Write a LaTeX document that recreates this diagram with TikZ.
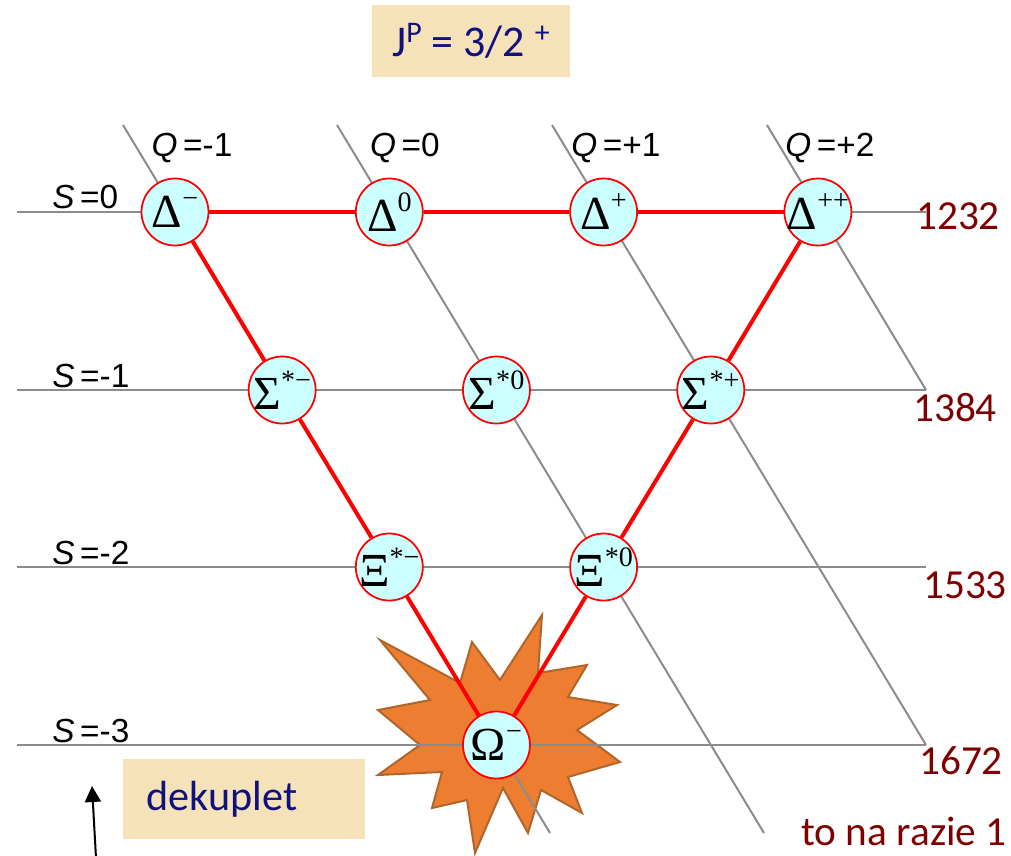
\documentclass[tikz,border=0pt]{standalone}
\usepackage{fontspec}
\setmainfont{Liberation Sans}
\newfontfamily\massfont{Carlito}
\newfontfamily\particlefont{Liberation Serif}
\usetikzlibrary{arrows.meta,positioning,calc}
\definecolor{hadronfill}{HTML}{CCFFFF}
\definecolor{gridgray}{HTML}{8C8C8C}
\definecolor{massred}{HTML}{7F0000}
\definecolor{notefill}{HTML}{F5E2B9}
\definecolor{notetext}{HTML}{10107F}
\definecolor{burstfill}{HTML}{ED7D31}
\definecolor{burstdraw}{HTML}{B0652B}
\newcommand{\hadron}[2]{\makebox[0pt][c]{#1\raisebox{0.42em}{\fontsize{16}{16}\selectfont #2}}}
\newcommand{\upsmall}[1]{\raisebox{0.32em}{\fontsize{17}{17}\selectfont #1}}
\tikzset{
    diagramparticle/.style={circle, draw=red, line width=0.35mm, fill=hadronfill, inner sep=0pt, minimum size=13.4mm, font=\particlefont\fontsize{27}{29}\selectfont},
    diagramgrid/.style={draw=gridgray, line width=0.4mm},
    diagramedge/.style={draw=red, line width=0.8mm},
    diagramaxis/.style={inner sep=0pt, font=\fontsize{19}{21}\selectfont},
    diagrammass/.style={inner sep=0pt, text=massred, font=\massfont\fontsize{23.5}{26}\selectfont},
    diagramnote/.style={fill=notefill, text=notetext, inner sep=0pt, font=\massfont\fontsize{25}{28}\selectfont},
    diagramburst/.style={fill=burstfill, draw=burstdraw, line width=0.4mm, line join=miter},
    diagramarrow/.style={-{Triangle[length=3.2mm, width=3.2mm]}, line width=0.4mm}
}

\begin{document}
\begin{tikzpicture}[x=0.2mm, y=-0.2mm, node distance=42.86mm, on grid]
    \useasboundingbox (0,0) rectangle (1011,855);
    % explosion behind Omega
    \draw[diagramburst] (380,640) -- (460,683) -- (472,642) -- (500,680) -- (542,615) -- (538,673)
        -- (587,665) -- (568,697) -- (617,705) -- (577,730) -- (620,762) -- (568,777)
        -- (582,813) -- (541,790) -- (528,833) -- (503,788) -- (475,853) -- (467,800)
        -- (432,808) -- (442,772) -- (378,775) -- (420,745) -- (378,710) -- (430,700) -- cycle;
    % strangeness and charge lines
    \foreach \yrow in {212,390,567,745}
        \draw[diagramgrid] (17,\yrow) -- (926,\yrow);
    \draw[diagramgrid] (123,125) -- (550,833);
    \draw[diagramgrid] (337,125) -- (764,833);
    \draw[diagramgrid] (552,125) -- (926,745);
    \draw[diagramgrid] (767,125) -- (926,390);
    \node[diagramaxis] (qm) at (192,148) {\textit{Q}\,=-1};
    \node[diagramaxis] (qz) at (405,148) {\textit{Q}\,=0};
    \node[diagramaxis] (qp) at (616,148) {\textit{Q}\,=+1};
    \node[diagramaxis] (qpp) at (830,148) {\textit{Q}\,=+2};
    \node[diagramaxis, anchor=west] (sz) at (52,197) {\textit{S}\,=0};
    \node[diagramaxis, anchor=west] (sm) at (52,376) {\textit{S}\,=-1};
    \node[diagramaxis, anchor=west] (smm) at (52,553) {\textit{S}\,=-2};
    \node[diagramaxis, anchor=west] (smmm) at (52,731) {\textit{S}\,=-3};
    % decuplet
    \node[diagramparticle] (dm) at (175,212) {\hadron{Δ}{−}};
    \node[diagramparticle, right=of dm] (dz) {\hadron{Δ}{0}};
    \node[diagramparticle, right=of dz] (dp) {\hadron{Δ}{+}};
    \node[diagramparticle, right=of dp] (dpp) {\hadron{Δ}{++}};
    \node[diagramparticle] (sgm) at ($(dm)!0.5!(dz)+(0,178)$) {\hadron{Σ}{*−}};
    \node[diagramparticle, right=of sgm] (sgz) {\hadron{Σ}{*0}};
    \node[diagramparticle, right=of sgz] (sgp) {\hadron{Σ}{*+}};
    \node[diagramparticle] (xim) at ($(sgm)!0.5!(sgz)+(0,177)$) {\hadron{Ξ}{*−}};
    \node[diagramparticle, right=of xim] (xiz) {\hadron{Ξ}{*0}};
    \node[diagramparticle] (om) at ($(xim)!0.5!(xiz)+(0,178)$) {\hadron{Ω}{−}};
    \draw[diagramedge] (dm) -- (dz);
    \draw[diagramedge] (dz) -- (dp);
    \draw[diagramedge] (dp) -- (dpp);
    \draw[diagramedge] (dm) -- (sgm);
    \draw[diagramedge] (sgm) -- (xim);
    \draw[diagramedge] (xim) -- (om);
    \draw[diagramedge] (dpp) -- (sgp);
    \draw[diagramedge] (sgp) -- (xiz);
    \draw[diagramedge] (xiz) -- (om);
    % masses
    \node[diagrammass] (mdelta) at (958,216) {1232};
    \node[diagrammass] (msigma) at (955,408) {1384};
    \node[diagrammass] (mxi) at (965,585) {1533};
    \node[diagrammass] (momega) at (961,761) {1672};
    \node[diagrammass] (remark) at (904,831) {to na razie 1};
    % boxes
    \node[diagramnote, minimum width=39.6mm, minimum height=14.4mm] (spin) at (471,41) {J\upsmall{P} = 3/2 \upsmall{+}};
    \node[diagramnote, inner xsep=4.6mm, text width=39mm, align=left, minimum height=16mm, font=\massfont\fontsize{24}{27}\selectfont] (name) at (244,799) {dekuplet};
    \coordinate (arrowfoot) at (96,858);
    \coordinate (arrowtip) at (92,786);
    \draw[diagramarrow] (arrowfoot) -- (arrowtip);
\end{tikzpicture}
\end{document}
